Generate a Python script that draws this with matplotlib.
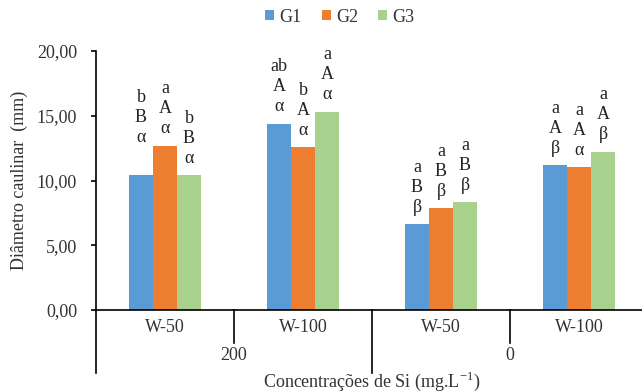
import matplotlib
matplotlib.use("Agg")
import matplotlib.pyplot as plt
import numpy as np
from matplotlib.ticker import FuncFormatter
import matplotlib.transforms as mtransforms

plt.rcParams['font.family'] = ['Liberation Serif', 'DejaVu Serif']
plt.rcParams['mathtext.fontset'] = 'custom'
plt.rcParams['mathtext.rm'] = 'Liberation Serif'

# Data
water_levels = ["W-50", "W-100", "W-50", "W-100"]
si_levels = ["200", "0"]
series = ["G1", "G2", "G3"]
g1 = [10.45, 14.39, 6.64, 11.17]
g2 = [12.69, 12.56, 7.85, 11.04]
g3 = [10.40, 15.31, 8.32, 12.22]

# Significance letters (line 1 / line 2 / line 3) per bar
letters_g1 = [("b", "B", "α"), ("ab", "A", "α"), ("a", "B", "β"), ("a", "A", "β")]
letters_g2 = [("a", "A", "α"), ("b", "A", "α"), ("a", "B", "β"), ("a", "A", "α")]
letters_g3 = [("b", "B", "α"), ("a", "A", "α"), ("a", "B", "β"), ("a", "A", "β")]

colors = ["#5B9BD5", "#ED7D31", "#A9D18E"]

fig = plt.figure(figsize=(6.42, 3.92), dpi=100)
ax = fig.add_axes([96 / 642, 82 / 392, 552 / 642, 259 / 392])

x = np.arange(len(water_levels))
width = 0.174
values = [g1, g2, g3]
letters = [letters_g1, letters_g2, letters_g3]
extra_lift = [[20, 0, 0, 0], [0, 0, 0, 0], [0, 0, 0, 0]]

for i, (vals, col, name) in enumerate(zip(values, colors, series)):
    pos = x + (i - 1) * width
    ax.bar(pos, vals, width, color=col, label=name, zorder=2)
    for j, (xp, v) in enumerate(zip(pos, vals)):
        lines = letters[i][j]
        base = 17 + extra_lift[i][j]
        for k, txt in enumerate(reversed(lines)):
            ax.annotate(txt, (xp, v), xytext=(0, base + 20 * k),
                        textcoords='offset pixels', ha='center', va='center',
                        fontsize=13, color='#222222')

ax.set_xlim(-0.5, 3.5)
ax.set_ylim(0, 20)
ax.set_yticks([0, 5, 10, 15, 20])
ax.yaxis.set_major_formatter(FuncFormatter(lambda v, p: f"{v:.2f}".replace(".", ",")))
ax.tick_params(axis='y', labelsize=13, length=3.6, width=1.2, direction='out', pad=10,
               colors='black', labelcolor='#333333')
ax.set_xticks([])

for s in ['top', 'right']:
    ax.spines[s].set_visible(False)
ax.spines['left'].set_linewidth(1.2)
ax.spines['bottom'].set_linewidth(1.2)

ax.set_ylabel("Diâmetro caulinar  (mm)", fontsize=13, color='#333333', labelpad=6)

# Multi-level category axis
trans = mtransforms.blended_transform_factory(ax.transData, ax.transAxes)
short_y = -33 / 259
long_y = -63 / 259
for b in [0.5, 2.5]:
    ax.plot([b, b], [0, short_y], transform=trans, color='black', lw=1.2, clip_on=False)
for b in [-0.5, 1.5, 3.5]:
    ax.plot([b, b], [0, long_y], transform=trans, color='black', lw=1.2, clip_on=False)

for xi, lab in zip(x, water_levels):
    ax.text(xi, -17 / 259, lab, transform=trans, ha='center', va='center',
            fontsize=13, color='#333333')
for gi, lab in enumerate(si_levels):
    ax.text(2 * gi + 0.5, -45 / 259, lab, transform=trans, ha='center', va='center',
            fontsize=13, color='#333333')
ax.text(1.5, -71 / 259, r"Concentrações de Si (mg.L$^{\mathrm{-1}}$)", transform=trans,
        ha='center', va='center', fontsize=13, color='#333333')

fig.legend(loc='center', bbox_to_anchor=(340 / 642, 1 - 17 / 392), ncol=3,
           frameon=False, fontsize=13, handlelength=0.5, handleheight=0.5,
           handletextpad=0.3, columnspacing=1.1, labelcolor='#333333')

fig.savefig("out.png", dpi=100)
